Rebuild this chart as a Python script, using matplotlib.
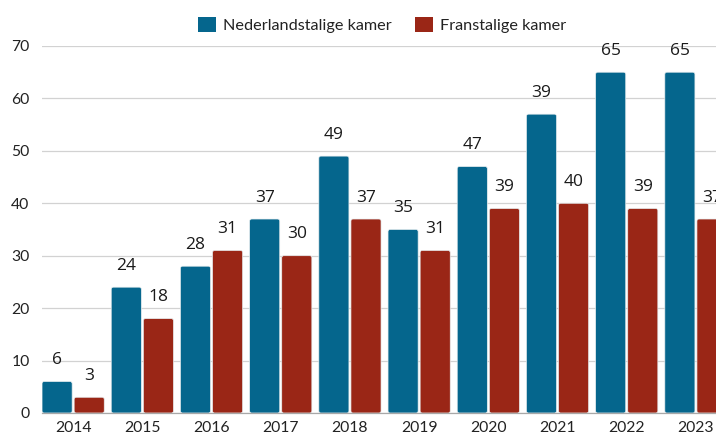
import matplotlib
matplotlib.use("Agg")
import numpy as np
import matplotlib.pyplot as plt
from matplotlib.patches import FancyBboxPatch, Patch

# ---------------------------------------------------------------------------
# Data
# ---------------------------------------------------------------------------
YEARS = ["2014", "2015", "2016", "2017", "2018", "2019", "2020", "2021", "2022", "2023"]
NL_VALUES = [6, 24, 28, 37, 49, 35, 47, 57, 65, 65]
FR_VALUES = [3, 18, 31, 30, 37, 31, 39, 40, 39, 37]
# labels as printed in the source (2021 label differs from bar height)
NL_LABELS = [6, 24, 28, 37, 49, 35, 47, 39, 65, 65]
FR_LABELS = [3, 18, 31, 30, 37, 31, 39, 40, 39, 37]
SERIES_NAMES = ["Nederlandstalige kamer", "Franstalige kamer"]
Y_TICKS = [0, 10, 20, 30, 40, 50, 60, 70]

BLUE = "#05668d"
RED = "#9a2616"
FONT = ["Lato", "DejaVu Sans"]
LABEL_FONT = ["Open Sans", "DejaVu Sans"]

plt.rcParams["font.family"] = FONT

fig = plt.figure(figsize=(7.16, 4.32), dpi=100)
ax = fig.add_axes([42 / 716, 19 / 432, 674 / 716, 367 / 432])

x = np.arange(len(YEARS))
width = 0.435
off = 0.232

bars_nl = ax.bar(x - off, NL_VALUES, width, color=BLUE, zorder=3)
bars_fr = ax.bar(x + off, FR_VALUES, width, color=RED, zorder=3)

ax.set_xlim(-0.45, 9.29)
ax.set_ylim(0, 70)

# rounded corners: swap bar rectangles for rounded boxes of the same geometry
aspect = (70 / 367) / (9.74 / 674)
for bars in (bars_nl, bars_fr):
    for b in bars:
        fb = FancyBboxPatch((b.get_x(), b.get_y()), b.get_width(), b.get_height(),
                            boxstyle="round,pad=0,rounding_size=0.03",
                            mutation_aspect=aspect,
                            facecolor=b.get_facecolor(), edgecolor="#e8eef0",
                            linewidth=0.5, zorder=3)
        ax.add_patch(fb)
        b.set_visible(False)

# value labels
for xi, v, lab in zip(x, NL_VALUES, NL_LABELS):
    ax.annotate(str(lab), (xi - off, v), xytext=(0, 12.5), textcoords="offset points",
                ha="center", va="baseline", fontsize=12.5, color="#1a1a1a",
                family=LABEL_FONT, annotation_clip=False, zorder=4)
for xi, v, lab in zip(x, FR_VALUES, FR_LABELS):
    ax.annotate(str(lab), (xi + off, v), xytext=(0, 12.5), textcoords="offset points",
                ha="center", va="baseline", fontsize=12.5, color="#1a1a1a",
                family=LABEL_FONT, annotation_clip=False, zorder=4)

ax.set_xticks(x)
ax.set_xticklabels(YEARS)
ax.set_yticks(Y_TICKS)
ax.tick_params(axis="both", length=0, labelsize=11.3, colors="#222222")
ax.tick_params(axis="y", pad=9)
ax.tick_params(axis="x", pad=6)

ax.yaxis.grid(True, color="#d2d2d2", linewidth=0.9, zorder=0)
ax.set_axisbelow(True)
for s in ["top", "right", "left"]:
    ax.spines[s].set_visible(False)
ax.spines["bottom"].set_color("#a8a8a8")
ax.spines["bottom"].set_linewidth(0.9)
ax.spines["bottom"].set_zorder(5)

handles = [Patch(facecolor=BLUE, label=SERIES_NAMES[0]),
           Patch(facecolor=RED, label=SERIES_NAMES[1])]
fig.legend(handles=handles, loc="center", bbox_to_anchor=(382 / 716, 1 - 25 / 432),
           ncol=2, frameon=False, fontsize=11.7, handlelength=1.1, handleheight=1.1,
           handletextpad=0.45, columnspacing=1.4, labelcolor="#222222")

fig.savefig("out.png", dpi=100)
